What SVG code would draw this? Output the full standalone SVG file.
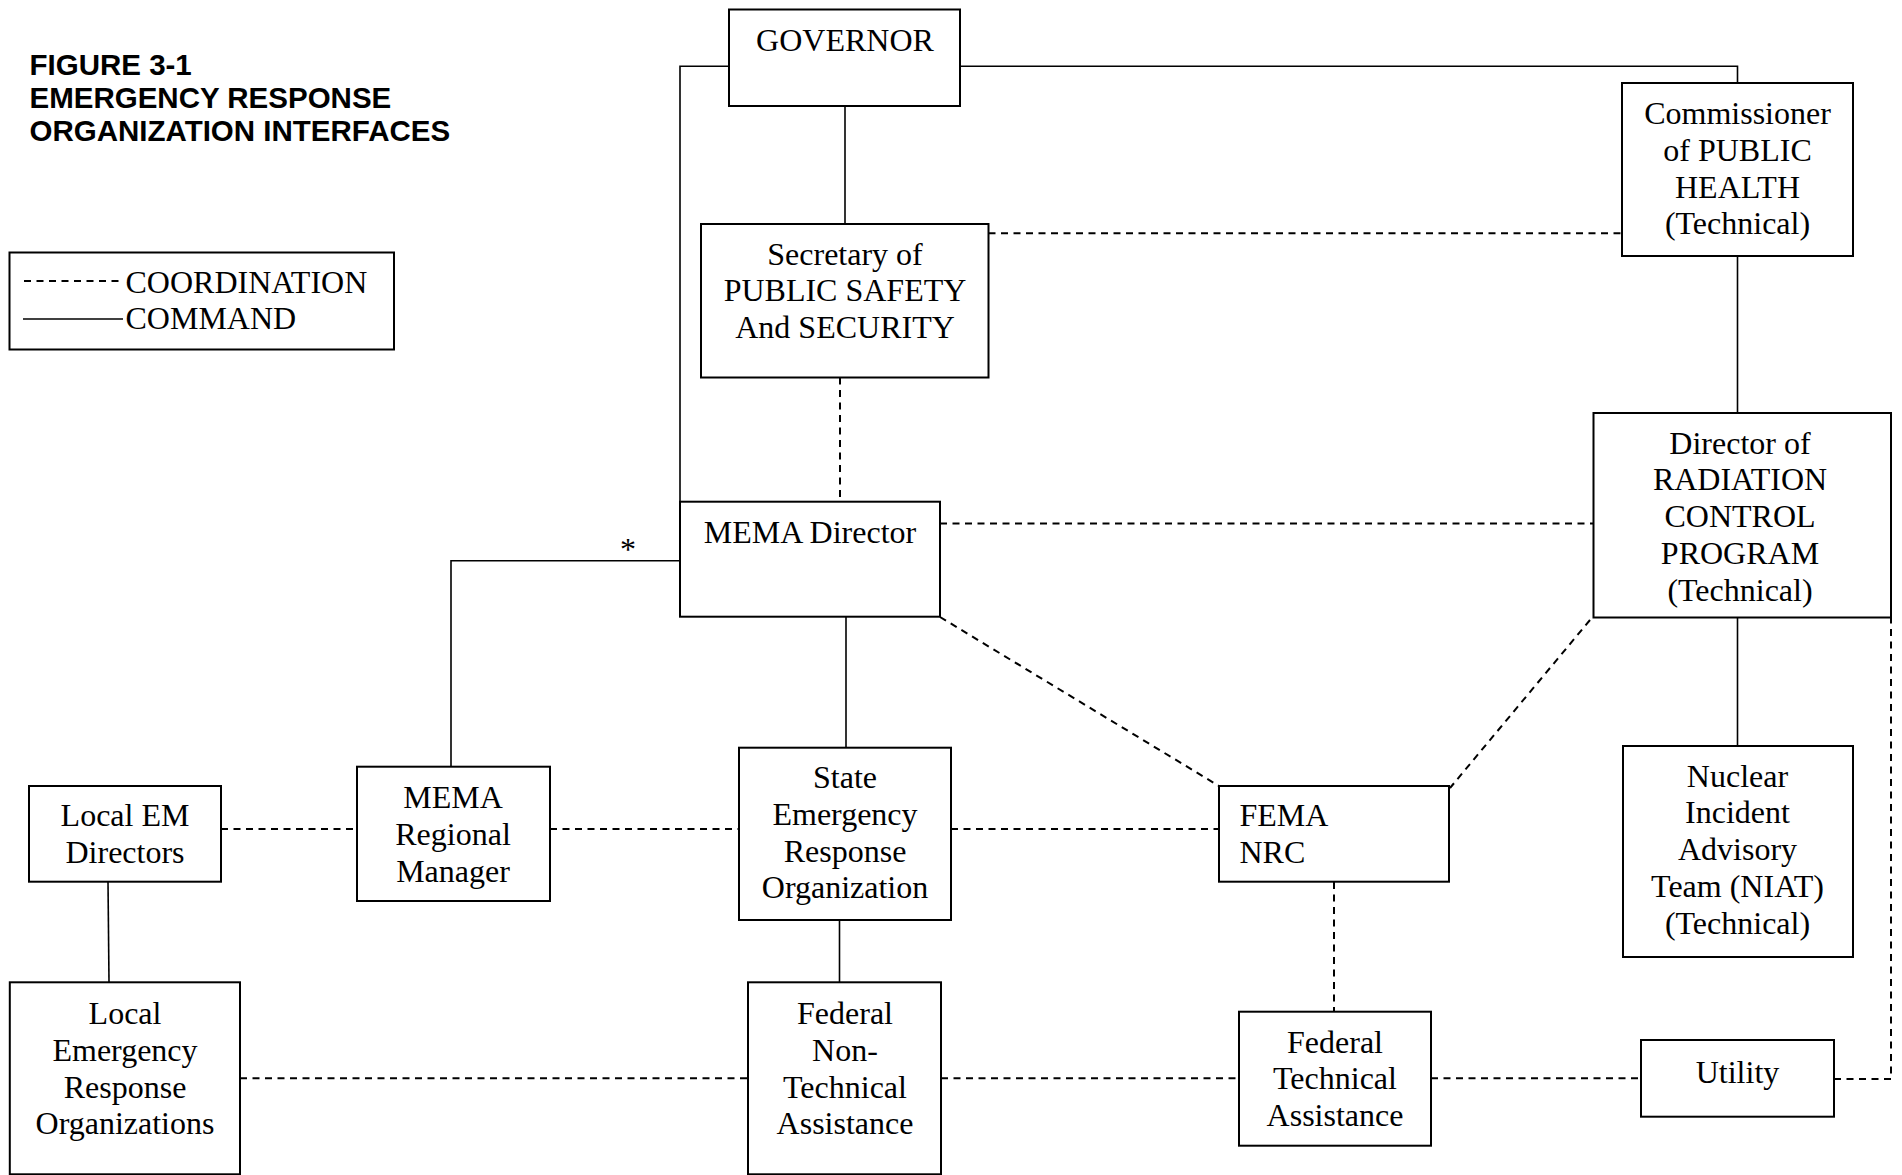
<svg xmlns="http://www.w3.org/2000/svg" width="1902" height="1175" viewBox="0 0 1902 1175">
<style>
.bg{fill:#fff}
.box{fill:#fff;stroke:#000;stroke-width:2}
.cmd{fill:none;stroke:#000;stroke-width:1.6}
.crd{fill:none;stroke:#000;stroke-width:2;stroke-dasharray:7 5.5}
.t{font-family:"Liberation Serif","Times New Roman",serif;font-size:32px;fill:#000;text-anchor:middle}
.tl{font-family:"Liberation Serif","Times New Roman",serif;font-size:32px;fill:#000}
.lg{font-family:"Liberation Serif","Times New Roman",serif;font-size:32px;fill:#000}
.title{font-family:"Liberation Sans",Arial,sans-serif;font-size:29.5px;font-weight:bold;fill:#000}
</style>
<rect class="bg" x="0" y="0" width="1902" height="1175"/>
<g id="title">
<text class="title" x="29.5" y="75">FIGURE 3-1</text>
<text class="title" x="29.5" y="108">EMERGENCY RESPONSE</text>
<text class="title" x="29.5" y="141">ORGANIZATION INTERFACES</text>
</g>
<g id="legend">
<rect class="box" x="9.5" y="252.5" width="384.5" height="97"/>
<line class="crd" x1="24" y1="281" x2="120" y2="281"/>
<line class="cmd" x1="23" y1="319" x2="123" y2="319"/>
<text class="lg" x="125.5" y="292.5">COORDINATION</text>
<text class="lg" x="125.5" y="329">COMMAND</text>
</g>
<g id="connectors">
<path class="cmd" d="M729,66.3 H680 V501.7"/>
<path class="cmd" d="M960,66.3 H1737.5 V83"/>
<path class="cmd" d="M845,106 V224"/>
<path class="cmd" d="M1737.5,256 V413"/>
<path class="cmd" d="M680,560.7 H451 V766.7"/>
<path class="cmd" d="M846,616.7 V747.7"/>
<path class="cmd" d="M1737.5,617.5 V746"/>
<path class="cmd" d="M108,881.7 L109,982.3"/>
<path class="cmd" d="M839.5,920 V982"/>
<path class="crd" d="M988.5,233.3 H1622"/>
<path class="crd" d="M840,377.5 V501.7"/>
<path class="crd" d="M940,523.5 H1593.5"/>
<path class="crd" d="M940,617 L1219,786"/>
<path class="crd" d="M1590,620 L1450,788"/>
<path class="crd" d="M221,829 H357"/>
<path class="crd" d="M550,829 H739"/>
<path class="crd" d="M951,829 H1219"/>
<path class="crd" d="M1334,882 V1011.7"/>
<path class="crd" d="M240,1078.3 H748"/>
<path class="crd" d="M941,1078.3 H1239"/>
<path class="crd" d="M1431,1078.3 H1641"/>
<path class="crd" d="M1834,1079 H1891 V617.5"/>
<text class="tl" x="628" y="560" text-anchor="middle" font-size="30">*</text>
</g>
<g id="governor">
<rect class="box" x="729" y="9.5" width="231" height="96.5"/>
<text class="t" x="845" y="50.5">GOVERNOR</text>
</g>
<g id="commissioner">
<rect class="box" x="1622" y="83" width="231" height="173"/>
<text class="t" x="1737.5" y="124">Commissioner</text>
<text class="t" x="1737.5" y="160.8">of PUBLIC</text>
<text class="t" x="1737.5" y="197.6">HEALTH</text>
<text class="t" x="1737.5" y="234.4">(Technical)</text>
</g>
<g id="secretary">
<rect class="box" x="701" y="224" width="287.5" height="153.5"/>
<text class="t" x="845" y="264.5">Secretary of</text>
<text class="t" x="845" y="301.3">PUBLIC SAFETY</text>
<text class="t" x="845" y="338.1">And SECURITY</text>
</g>
<g id="mema-director">
<rect class="box" x="680" y="501.7" width="260" height="115"/>
<text class="t" x="810" y="543">MEMA Director</text>
</g>
<g id="radiation-director">
<rect class="box" x="1593.5" y="413" width="297.5" height="204.5"/>
<text class="t" x="1740" y="453.5">Director of</text>
<text class="t" x="1740" y="490.3">RADIATION</text>
<text class="t" x="1740" y="527.1">CONTROL</text>
<text class="t" x="1740" y="563.9">PROGRAM</text>
<text class="t" x="1740" y="600.7">(Technical)</text>
</g>
<g id="niat">
<rect class="box" x="1623" y="746" width="230" height="211"/>
<text class="t" x="1737.5" y="786.5">Nuclear</text>
<text class="t" x="1737.5" y="823.3">Incident</text>
<text class="t" x="1737.5" y="860.1">Advisory</text>
<text class="t" x="1737.5" y="896.9">Team (NIAT)</text>
<text class="t" x="1737.5" y="933.7">(Technical)</text>
</g>
<g id="state-ero">
<rect class="box" x="739" y="747.7" width="212" height="172.3"/>
<text class="t" x="845" y="788">State</text>
<text class="t" x="845" y="824.8">Emergency</text>
<text class="t" x="845" y="861.6">Response</text>
<text class="t" x="845" y="898.4">Organization</text>
</g>
<g id="mema-regional">
<rect class="box" x="357" y="766.7" width="193" height="134.3"/>
<text class="t" x="453" y="808">MEMA</text>
<text class="t" x="453" y="844.8">Regional</text>
<text class="t" x="453" y="881.6">Manager</text>
</g>
<g id="local-em">
<rect class="box" x="29" y="786" width="192" height="95.7"/>
<text class="t" x="125" y="826">Local EM</text>
<text class="t" x="125" y="863">Directors</text>
</g>
<g id="fema-nrc">
<rect class="box" x="1219" y="786" width="230" height="95.7"/>
<text class="tl" x="1239.5" y="826">FEMA</text>
<text class="tl" x="1239.5" y="863">NRC</text>
</g>
<g id="local-ero">
<rect class="box" x="9.8" y="982.3" width="230.2" height="192"/>
<text class="t" x="125" y="1024">Local</text>
<text class="t" x="125" y="1060.8">Emergency</text>
<text class="t" x="125" y="1097.6">Response</text>
<text class="t" x="125" y="1134.4">Organizations</text>
</g>
<g id="federal-nontech">
<rect class="box" x="748" y="982.3" width="193" height="192"/>
<text class="t" x="845" y="1024">Federal</text>
<text class="t" x="845" y="1060.8">Non-</text>
<text class="t" x="845" y="1097.6">Technical</text>
<text class="t" x="845" y="1134.4">Assistance</text>
</g>
<g id="federal-tech">
<rect class="box" x="1239" y="1011.7" width="192" height="134"/>
<text class="t" x="1335" y="1052.5">Federal</text>
<text class="t" x="1335" y="1089.3">Technical</text>
<text class="t" x="1335" y="1126.1">Assistance</text>
</g>
<g id="utility">
<rect class="box" x="1641" y="1040" width="193" height="76.7"/>
<text class="t" x="1737.5" y="1082.5">Utility</text>
</g>
</svg>
